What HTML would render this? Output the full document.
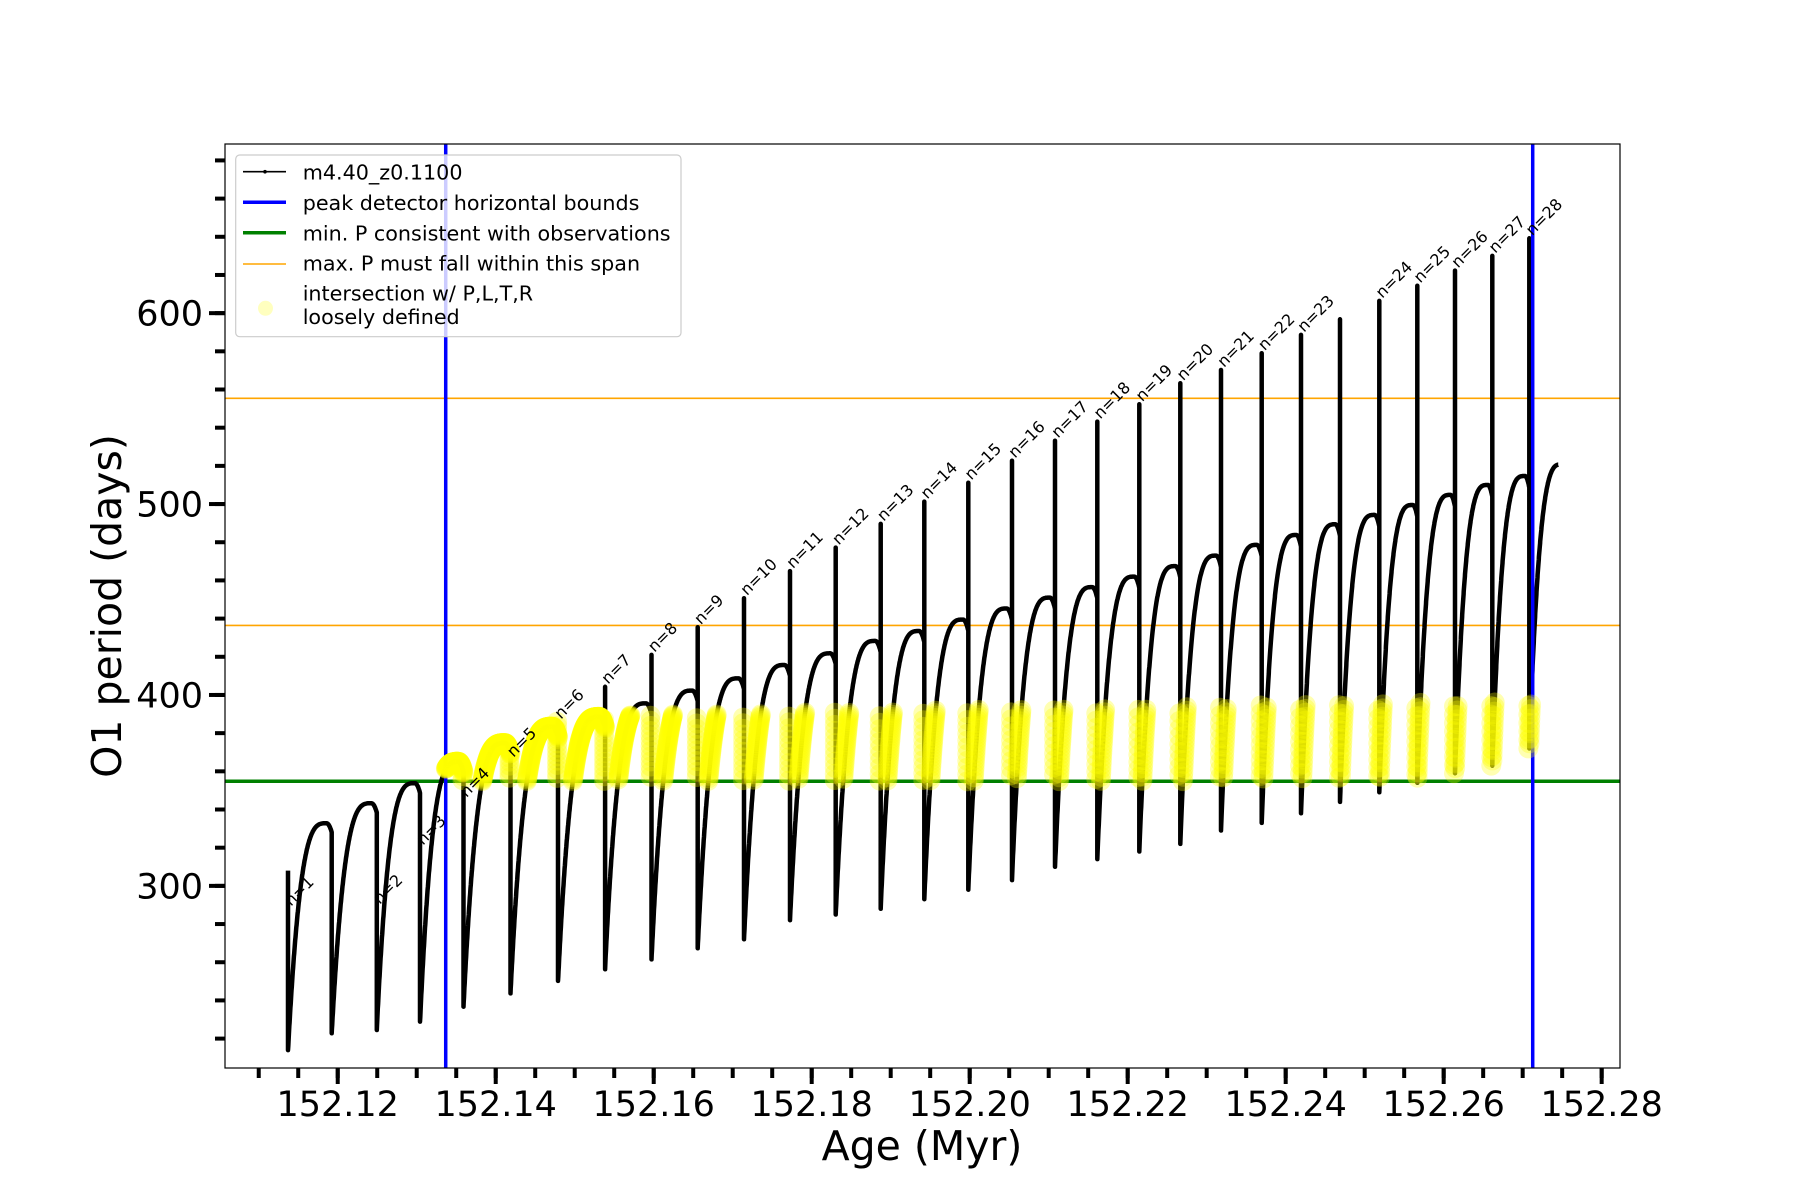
<!DOCTYPE html>
<html><head><meta charset="utf-8">
<style>
html,body{margin:0;padding:0;background:#fff;}
svg{display:block;font-family:"DejaVu Sans","Liberation Sans",sans-serif;}
</style></head>
<body>
<svg id="chart" width="1800" height="1200" viewBox="0 0 1800 1200" xmlns="http://www.w3.org/2000/svg">
  <rect x="0" y="0" width="1800" height="1200" fill="#fff"/>
  <g id="plot"></g>
  <g id="axes"></g>
  <g id="legend"></g>
</svg>
<script>
// ---- data ----
const boundaryAges = [152.11371,152.11924,152.12494,152.13042,152.13592,152.14187,152.14789,152.15384,152.15972,152.16557,152.17143,152.17725,152.18304,152.18873,152.19425,152.19982,152.20535,152.21080,152.21615,152.22147,152.22666,152.23181,152.23696,152.24194,152.24687,152.25185,152.25666,152.26143,152.26615,152.27084];
const endAge = 152.27451;
const endValue = 517.9;
const spikePeaks = [308,255,289,320,345,366,386,404.3,421,435.5,450.7,464.9,477.2,489.6,501.3,511.2,522.7,533.2,543.2,552.3,563.3,570.2,579,588.6,596.8,606.4,614.4,622.3,630,639.2];
const cycleMins = [214,222.8,224.5,228.9,236.7,243.7,250.2,256.3,261.5,267.3,272,282,285,288,293,298,303,310,314,318,322,329,333,338,344,349,354,359,363,372];
const humpTops = [332.8,343.3,353.8,365,374.8,383.4,388.5,395.6,402.3,408.7,415.7,421.8,428.3,433.5,439.5,445.3,451,456.5,462,467.5,473,478.6,483.8,489.4,494.3,499.5,504.8,510,514.7];
const labelNumbers = [1,null,2,3,4,5,6,7,8,9,10,11,12,13,14,15,16,17,18,19,20,21,22,23,null,24,25,26,27,28];
const labelValues = [288,255,289,320,345,366,386,404.3,421,435.5,450.7,464.9,477.2,489.6,501.3,511.2,522.7,533.2,543.2,552.3,563.3,570.2,579,588.6,596.8,606.4,614.4,622.3,630,639.2];
const peakBounds = [152.13367,152.27127];
const minPeriod = [354.8];
const maxPeriodSpan = [436.4,555.4];
const yellowTop = [388,397];
const xTicks = [152.12,152.14,152.16,152.18,152.20,152.22,152.24,152.26,152.28];
const xTickLabels = ["152.12","152.14","152.16","152.18","152.20","152.22","152.24","152.26","152.28"];
const yTicks = [300,400,500,600];
const yTickLabels = ["300","400","500","600"];

// ---- axes functions ----
const L=225,R=1620,T=144,B=1068;
const xMin=152.10573,xMax=152.28232,yMin=204.6,yMax=688.6;
function X(a){return L+(a-xMin)/(xMax-xMin)*(R-L);}
function Y(v){return B-(v-yMin)/(yMax-yMin)*(B-T);}
const NS="http://www.w3.org/2000/svg";
function mk(tag,attrs,parent){const e=document.createElementNS(NS,tag);for(const k in attrs)e.setAttribute(k,attrs[k]);parent.appendChild(e);return e;}
const plot=document.getElementById('plot'), axes=document.getElementById('axes'), leg=document.getElementById('legend');

function g(u){ if(u<=0.88){return 1-Math.pow((0.88-u)/0.88,3.2);} const d=(u-0.88)/0.12; return 1-0.04*d*d; }

// build series points
const pts=[]; const yPts=[];
for(let k=0;k<boundaryAges.length;k++){
  const t0=boundaryAges[k];
  const last=(k===boundaryAges.length-1);
  const t1= last? t0+(boundaryAges[k]-boundaryAges[k-1]) : boundaryAges[k+1];
  const m=cycleMins[k];
  const H= last? endValue+ (endValue-m)*0.02 : humpTops[k];
  const prev = k===0? spikePeaks[0] : pts[pts.length-1][1];
  pts.push([t0,spikePeaks[k]]);
  const top=Math.max(prev,spikePeaks[k]);
  for(let j=0;j<=60;j++){yPts.push([t0-0.00012, top-(top-m)*j/60]);}
  pts.push([t0,m]);
  const N=200;
  for(let i=1;i<=N;i++){
    const u=i/N; const t=t0+(t1-t0)*u;
    if(last && t>endAge) break;
    const v=m+(H-m)*g(u);
    pts.push([t,v]); yPts.push([t,v]);
  }
}
let d='';
pts.forEach((p,i)=>{d+=(i?'L':'M')+X(p[0]).toFixed(1)+' '+Y(p[1]).toFixed(1);});

maxPeriodSpan.forEach((v,i)=>{
  const l=mk('line',{x1:L,x2:R,y1:Y(v),y2:Y(v),stroke:'#ffa500','stroke-width':1.6},plot);
  
  
});
const gl=mk('line',{x1:L,x2:R,y1:Y(minPeriod[0]),y2:Y(minPeriod[0]),stroke:'#008000','stroke-width':3.5},plot);



const path=mk('path',{d:d,fill:'none',stroke:'#000','stroke-width':4.5,'stroke-linejoin':'round'},plot);



peakBounds.forEach((a,i)=>{
  const l=mk('line',{x1:X(a),x2:X(a),y1:T,y2:B,stroke:'#0000ff','stroke-width':3.5},plot);
  
  
});

const yg=mk('g',{fill:'#ffff00','fill-opacity':0.3},plot);


yPts.forEach(p=>{
  if(p[0]<peakBounds[0]||p[0]>peakBounds[1])return;
  const f=(p[0]-peakBounds[0])/(peakBounds[1]-peakBounds[0]);
  const top=yellowTop[0]+(yellowTop[1]-yellowTop[0])*f;
  if(p[1]<minPeriod[0]||p[1]>top)return;
  const c=mk('circle',{cx:X(p[0]).toFixed(1),cy:Y(p[1]).toFixed(1),r:10},yg);
  
  
});

labelNumbers.forEach((n,k)=>{
  if(n===null)return;
  const x=X(boundaryAges[k])+3, y=Y(labelValues[k])-2;
  const t=mk('text',{x:x,y:y,'font-size':16,fill:'#000',transform:'rotate(-45 '+x+' '+y+')'},plot);
  t.textContent='n='+n;
  
  
});

const fr=mk('rect',{x:L,y:T,width:R-L,height:B-T,fill:'none',stroke:'#000','stroke-width':1.2},axes);



for(let a=152.105;a<=152.2825;a+=0.005){
  const x=X(a); if(x<L-0.5||x>R+0.5)continue;
  const l=mk('line',{x1:x,x2:x,y1:B,y2:B+10,stroke:'#000','stroke-width':4},axes);
  
  
}
xTicks.forEach((a,i)=>{
  const x=X(a);
  const l=mk('line',{x1:x,x2:x,y1:B,y2:B+16,stroke:'#000','stroke-width':4},axes);
  
  
  const t=mk('text',{x:x,y:1116,'font-size':35,'text-anchor':'middle',fill:'#000'},axes);
  t.textContent=xTickLabels[i];
  
  
});
for(let v=220;v<=680;v+=20){
  const y=Y(v);
  const l=mk('line',{x1:L-10,x2:L,y1:y,y2:y,stroke:'#000','stroke-width':4},axes);
  
  
}
yTicks.forEach((v,i)=>{
  const y=Y(v);
  const l=mk('line',{x1:L-16,x2:L,y1:y,y2:y,stroke:'#000','stroke-width':4},axes);
  
  
  const t=mk('text',{x:L-22,y:y+12.5,'font-size':35,'text-anchor':'end',fill:'#000'},axes);
  t.textContent=yTickLabels[i];
  
  
});
const xt=mk('text',{x:922,y:1160,'font-size':41,'text-anchor':'middle',fill:'#000'},axes);
xt.textContent='Age (Myr)';


const yt=mk('text',{x:121,y:606,'font-size':41,'text-anchor':'middle',fill:'#000',transform:'rotate(-90 121 606)'},axes);
yt.textContent='O1 period (days)';



const lb=mk('rect',{x:235.7,y:155,width:445.3,height:181.7,rx:4,fill:'#fff','fill-opacity':0.8,stroke:'#cccccc','stroke-width':1.2},leg);


const entries=[
 {name:'legend-series',label:'m4.40_z0.1100',y:171.7,color:'#000',w:1.6,base:179.5},
 {name:'legend-peak-bounds',label:'peak detector horizontal bounds',y:202.3,color:'#0000ff',w:3.5,base:210},
 {name:'legend-min-period',label:'min. P consistent with observations',y:232.7,color:'#008000',w:3.5,base:240.7},
 {name:'legend-max-period',label:'max. P must fall within this span',y:264,color:'#ffa500',w:1.6,base:270.7}
];
entries.forEach(e=>{
  const l=mk('line',{x1:243,x2:286,y1:e.y,y2:e.y,stroke:e.color,'stroke-width':e.w},leg);
  
  
  const t=mk('text',{x:302.7,y:e.base,'font-size':20.7,fill:'#000'},leg);
  t.textContent=e.label;
  
  
});
const dot=mk('circle',{cx:265,cy:171.7,r:1.8,fill:'#000'},leg);


const ym=mk('circle',{cx:265.5,cy:308.3,r:7.5,fill:'#ffff00','fill-opacity':0.25},leg);


const t5=mk('text',{x:302.7,y:300.7,'font-size':20.7,fill:'#000'},leg);
t5.textContent='intersection w/ P,L,T,R';


const t6=mk('text',{x:302.7,y:324,'font-size':20.7,fill:'#000'},leg);
t6.textContent='loosely defined';


</script>
</body></html>
